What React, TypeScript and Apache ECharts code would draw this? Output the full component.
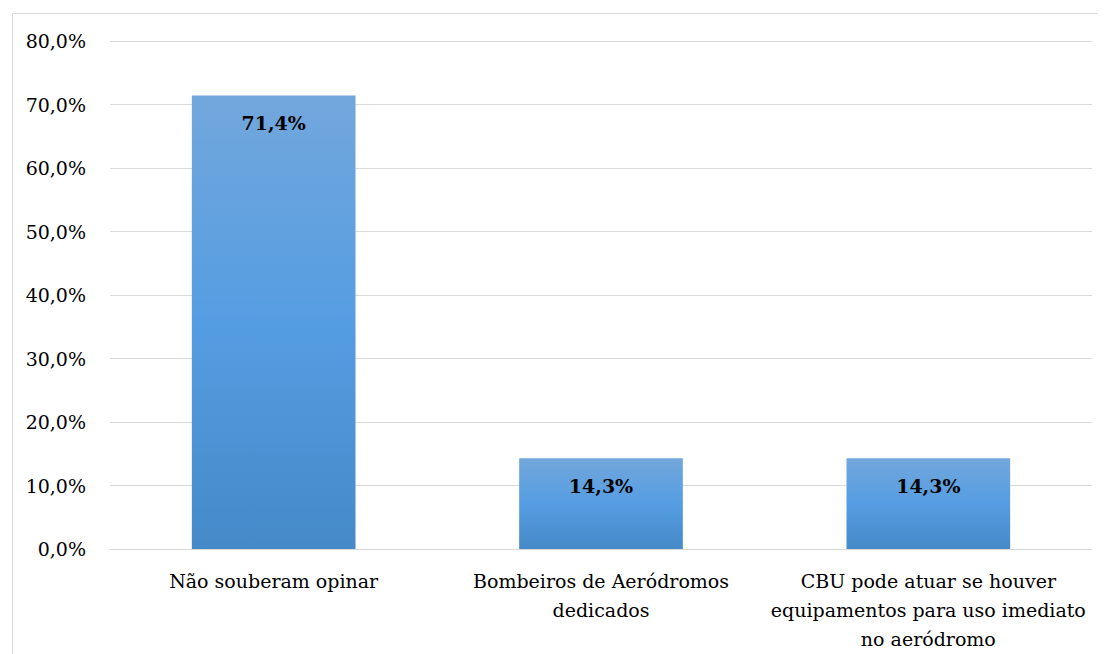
import React, { useEffect, useRef } from "react";
import * as echarts from "echarts";

const categories = [
  "Não souberam opinar",
  "Bombeiros de Aeródromos\ndedicados",
  "CBU pode atuar se houver\nequipamentos para uso imediato\nno aeródromo",
];
const values = [71.4, 14.3, 14.3];
const yTicks = [0, 10, 20, 30, 40, 50, 60, 70, 80];

const fmt = (v: number) => v.toFixed(1).replace(".", ",") + "%";

export default function App() {
  const ref = useRef<HTMLDivElement>(null);
  useEffect(() => {
    if (!ref.current) return;
    const chart = echarts.init(ref.current, undefined, { renderer: "svg" });
    const font = "DejaVu Serif";
    chart.setOption({
      animation: false,
      backgroundColor: "#ffffff",
      graphic: [
        {
          type: "rect",
          left: 2,
          top: 3,
          shape: { width: 1200, height: 800 },
          style: { fill: "none", stroke: "#d9dde3", lineWidth: 1 },
          silent: true,
        },
      ],
      grid: { left: 102, right: 14, top: 33, bottom: 105, containLabel: false },
      xAxis: {
        type: "category",
        data: categories,
        axisLine: { show: true, lineStyle: { color: "#d9d9d9", width: 1 } },
        axisTick: { show: false },
        axisLabel: {
          color: "#000",
          fontFamily: font,
          fontSize: 19,
          lineHeight: 29,
          margin: 17,
          interval: 0,
        },
      },
      yAxis: {
        type: "value",
        min: yTicks[0],
        max: yTicks[yTicks.length - 1],
        interval: 10,
        axisLine: { show: false },
        axisTick: { show: false },
        splitLine: { lineStyle: { color: "#d9d9d9", width: 1 } },
        axisLabel: {
          color: "#000",
          fontFamily: font,
          fontSize: 19,
          margin: 24,
          formatter: (v: number) => fmt(v),
        },
      },
      series: [
        {
          type: "bar",
          data: values,
          barWidth: "50%",
          itemStyle: {
            color: new echarts.graphic.LinearGradient(0, 0, 0, 1, [
              { offset: 0, color: "#72a7dc" },
              { offset: 0.5, color: "#559de2" },
              { offset: 1, color: "#4589c8" },
            ]),
          },
          label: {
            show: true,
            position: "insideTop",
            distance: 18,
            color: "#000",
            fontFamily: font,
            fontSize: 19,
            fontWeight: "bold",
            formatter: (p: any) => fmt(p.value),
          },
        },
      ],
    });
    return () => chart.dispose();
  }, []);
  return <div ref={ref} style={{ width: 1098, height: 646 }} />;
}
